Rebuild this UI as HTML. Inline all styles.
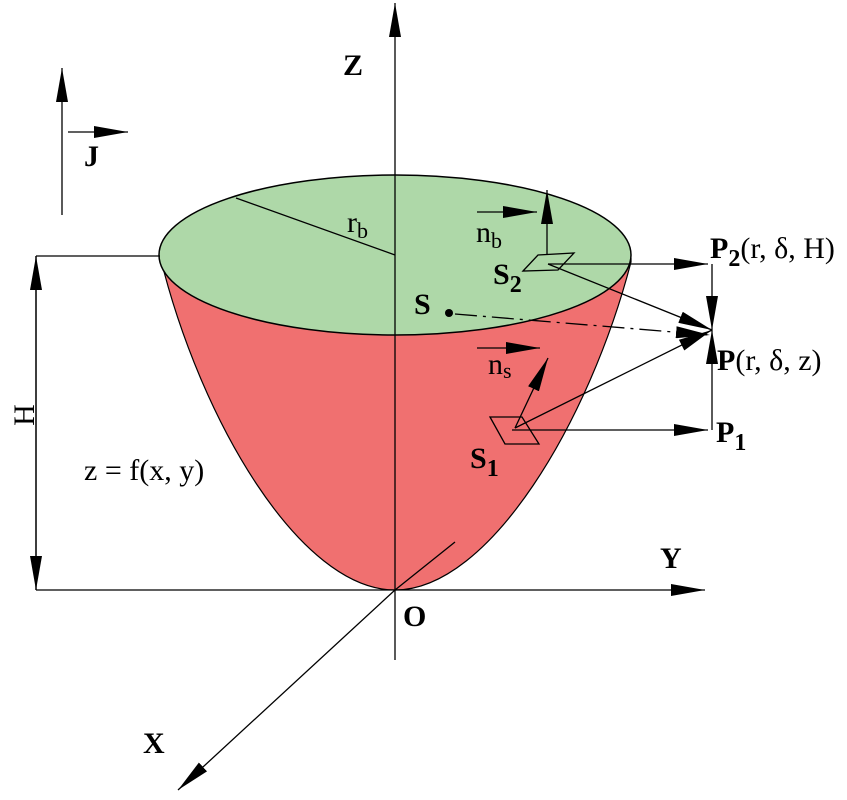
<!DOCTYPE html>
<html><head><style>body{margin:0;background:#fff}svg{display:block}</style></head><body>
<svg width="847" height="800" viewBox="0 0 847 800" xmlns="http://www.w3.org/2000/svg" font-family="Liberation Serif, serif">
<defs>
<marker id="a" viewBox="0 0 34 12" refX="34" refY="6" markerWidth="34" markerHeight="12" markerUnits="userSpaceOnUse" orient="auto"><path d="M0,0 L34,6 L0,12 z" fill="#000"/></marker>
</defs>
<path d="M160,256 C200,420 300,590 395,590 C490,590 590,420 631,262 L631,258 A236,80 0 0 1 160,256 z" fill="#f07070" stroke="#000" stroke-width="1.2"/>
<ellipse cx="395" cy="255" rx="236" ry="80" fill="#aed8a8" stroke="#000" stroke-width="1.5"/>
<g stroke="#000" stroke-width="1.3" fill="none">
<line x1="395" y1="660" x2="395" y2="3" marker-end="url(#a)"/>
<line x1="36" y1="590" x2="705" y2="590" marker-end="url(#a)"/>
<line x1="395" y1="590" x2="178" y2="790" marker-end="url(#a)"/>
<line x1="395" y1="590" x2="455" y2="542"/>
<line x1="62" y1="215" x2="62" y2="68" marker-end="url(#a)"/>
<line x1="68" y1="132" x2="128" y2="132" marker-end="url(#a)"/>
<line x1="36" y1="256" x2="160" y2="256"/>
<line x1="36" y1="256" x2="36" y2="590" marker-end="url(#a)"/>
<line x1="36" y1="590" x2="36" y2="256" marker-end="url(#a)"/>
<line x1="236" y1="198" x2="395" y2="255"/>
<line x1="477" y1="212" x2="537" y2="212" marker-end="url(#a)"/>
<line x1="547" y1="254" x2="547" y2="190" marker-end="url(#a)"/>
<path d="M523,271 L538,255 L574,253 L558,270 z"/>
<line x1="548" y1="264" x2="708" y2="264" marker-end="url(#a)"/>
<line x1="548" y1="264" x2="712" y2="330" marker-end="url(#a)"/>
<line x1="712" y1="264" x2="712" y2="330" marker-end="url(#a)"/>
<line x1="712" y1="430" x2="712" y2="330" marker-end="url(#a)"/>
<line x1="512" y1="430" x2="708" y2="430" marker-end="url(#a)"/>
<line x1="455" y1="314" x2="710" y2="335" stroke-dasharray="22,6,3,6" marker-end="url(#a)"/>
<line x1="477" y1="348" x2="540" y2="348" marker-end="url(#a)"/>
<line x1="515" y1="428" x2="548" y2="358" marker-end="url(#a)"/>
<line x1="515" y1="428" x2="712" y2="330" marker-end="url(#a)"/>
<path d="M490,417 L505,444 L539,444 L522,417 z"/>
</g>
<circle cx="449" cy="313" r="4" fill="#000"/>
<g font-size="30" fill="#000">
<text x="343" y="75" font-weight="bold">Z</text>
<text x="84" y="166" font-weight="bold">J</text>
<text x="347" y="232">r<tspan font-size="22" dy="6">b</tspan></text>
<text x="476" y="242">n<tspan font-size="22" dy="6">b</tspan></text>
<text x="493" y="284" font-weight="bold">S<tspan font-size="24" dy="8">2</tspan></text>
<text x="414" y="314" font-weight="bold">S</text>
<text x="488" y="374">n<tspan font-size="22" dy="4">s</tspan></text>
<text x="470" y="468" font-weight="bold">S<tspan font-size="24" dy="8">1</tspan></text>
<text x="710" y="258"><tspan font-weight="bold">P<tspan font-size="24" dy="8">2</tspan></tspan><tspan dy="-8">(r, δ, H)</tspan></text>
<text x="717" y="370"><tspan font-weight="bold">P</tspan>(r, δ, z)</text>
<text x="716" y="442" font-weight="bold">P<tspan font-size="24" dy="8">1</tspan></text>
<text x="84" y="480">z = f(x, y)</text>
<text x="660" y="568" font-weight="bold">Y</text>
<text x="403" y="626" font-weight="bold">O</text>
<text x="143" y="753" font-weight="bold">X</text>
<text transform="translate(34,415) rotate(-90)" text-anchor="middle">H</text>
</g>
</svg>
</body></html>
